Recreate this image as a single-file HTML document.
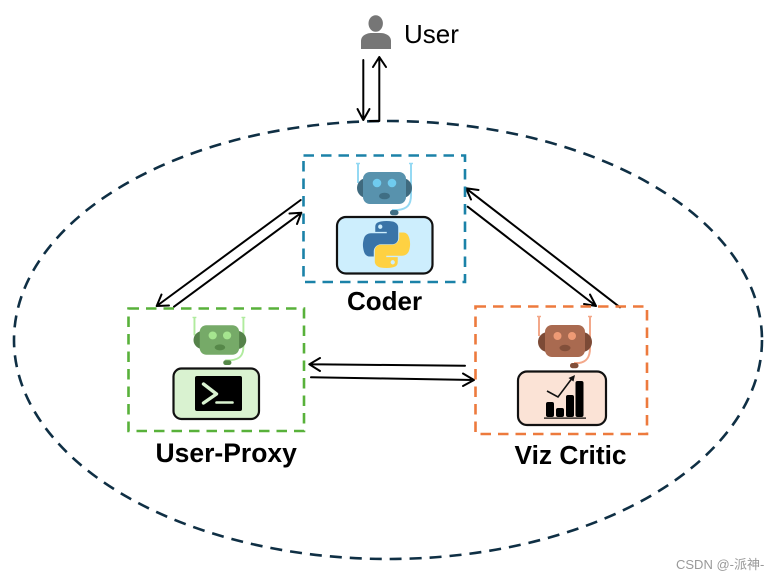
<!DOCTYPE html>
<html>
<head>
<meta charset="utf-8">
<style>
html,body{margin:0;padding:0;background:#fff;width:777px;height:580px;overflow:hidden}
svg{display:block;filter:blur(.35px)}
text{font-family:"Liberation Sans","Noto Sans CJK SC",sans-serif}
</style>
</head>
<body>
<svg width="777" height="580" viewBox="0 0 777 580" xmlns="http://www.w3.org/2000/svg">
<defs>
<path id="py" d="M54.9 0C50.3 0 46 .4 42.1 1.1 30.7 3.1 28.7 7.3 28.7 15.1V25.4H55.6V28.8H18.5C10.7 28.8 3.9 33.5 1.7 42.4c-2.5 10.2-2.6 16.6 0 27.2C3.6 77.5 8.1 83.2 16 83.2h9.2V71c0-8.9 7.7-16.7 16.9-16.7H69c7.5 0 13.4-6.2 13.4-13.7V15.1C82.4 7.8 76.3 2.4 69 1.1 64.4.3 59.6 0 54.9 0ZM40.4 8.3c2.8 0 5 2.3 5 5.1 0 2.8-2.2 5.1-5 5.1-2.8 0-5-2.3-5-5.1 0-2.8 2.2-5.1 5-5.1Z" fill-rule="evenodd"/>
</defs>

<ellipse cx="388" cy="340" rx="374" ry="219" fill="none" stroke="#0f2f44" stroke-width="2.600" stroke-dasharray="12 8"/>

<!-- User -->
<ellipse cx="375.700" cy="23.500" rx="7.200" ry="8.300" fill="#767676"/>
<path d="M361 49V41C361 36 366 33 372 33H380C386 33 391 36 391 41V49Z" fill="#767676"/>
<text x="404" y="43" font-size="26" fill="#000">User</text>

<!-- Arrows -->
<g fill="none" stroke="#000" stroke-width="2" stroke-linecap="round" stroke-linejoin="round">
<path d="M363.300 60V120M357.500 109L363.300 120L369.500 109"/>
<path d="M370 121H379.300V57M373 67L379.300 57L386 67"/>
<path d="M300.700 200L156.700 306M161.500 294.500L156.700 306L169 305.500"/>
<path d="M174 306.700L301.300 212.700M289.500 213.500L301.300 212.700L297 224"/>
<path d="M620 307.300L466 188.300M478.500 190L466 188.300L471 199.500"/>
<path d="M467.700 206.700L596 306M590 294.500L596 306L584 304"/>
<path d="M465 365.700L309.300 364.300M320 358L309.300 364.300L320 371"/>
<path d="M311 377.300L474 380M463 373.500L474 380L463 386"/>
</g>

<!-- Dashed boxes -->
<rect x="303.500" y="155.500" width="161.500" height="126.500" fill="none" stroke="#1b82a8" stroke-width="2.600" stroke-dasharray="10.500 7"/>
<rect x="128.500" y="308.500" width="175.500" height="122.500" fill="none" stroke="#58b13a" stroke-width="2.600" stroke-dasharray="10.500 7"/>
<rect x="475.500" y="306.500" width="171.500" height="127.500" fill="none" stroke="#ed7a3d" stroke-width="2.600" stroke-dasharray="10.500 7"/>

<!-- Coder robot -->
<g transform="translate(357 163)">
<path d="M1 0V20" stroke="#95d9f3" stroke-width="2" fill="none"/>
<path d="M-1 .5H3" stroke="#95d9f3" stroke-width="1.500"/>
<path d="M54 0V32C54 42 50 46 41 47H35" stroke="#95d9f3" stroke-width="2" fill="none"/>
<path d="M52 .5H56" stroke="#95d9f3" stroke-width="1.500"/>
<rect x="0" y="15" width="55" height="20" rx="10" fill="#3f6a7e"/>
<rect x="6" y="9" width="43" height="32" rx="7" fill="#5892ad"/>
<circle cx="20" cy="20" r="4.300" fill="#6fcbef"/>
<circle cx="35" cy="20" r="4.300" fill="#6fcbef"/>
<ellipse cx="27.500" cy="33" rx="5.500" ry="3.300" fill="#3f6e84"/>
<rect x="33" y="47" width="8.500" height="5.200" rx="2.500" fill="#3f6e84"/>
</g>
<rect x="337" y="217" width="95.500" height="56.500" rx="9" fill="#cdeefd" stroke="#111" stroke-width="2.200"/>
<g transform="translate(363 221) scale(.4273)">
<use href="#py" fill="#3a74a8"/>
<use href="#py" fill="#fed142" transform="rotate(180 55 55)"/>
</g>

<!-- User-Proxy robot -->
<g transform="translate(193.500 317) scale(.96 .92)">
<path d="M1 0V20" stroke="#b0eb9e" stroke-width="2" fill="none"/>
<path d="M-1 .5H3" stroke="#b0eb9e" stroke-width="1.500"/>
<path d="M52 0V32C52 42 48 46 39 47H33" stroke="#b0eb9e" stroke-width="2" fill="none"/>
<path d="M50 .5H54" stroke="#b0eb9e" stroke-width="1.500"/>
<rect x="0" y="15" width="55" height="20" rx="10" fill="#55824a"/>
<rect x="6.500" y="9" width="41" height="32" rx="7" fill="#76aa68"/>
<circle cx="20" cy="20" r="4.300" fill="#a5e58f"/>
<circle cx="35" cy="20" r="4.300" fill="#a5e58f"/>
<ellipse cx="27.500" cy="33" rx="5.500" ry="3.300" fill="#568849"/>
<rect x="31" y="47" width="8.500" height="5.200" rx="2.500" fill="#568849"/>
</g>
<rect x="173.500" y="368.500" width="85.500" height="50.500" rx="8" fill="#d9f2d0" stroke="#111" stroke-width="2.200"/>
<rect x="195" y="376" width="47" height="35" rx="2" fill="#000"/>
<path d="M203.500 384L216.500 394L203.500 403" fill="none" stroke="#d9f2d0" stroke-width="3.400" stroke-linecap="round" stroke-linejoin="round"/>
<path d="M216.500 402.500H232.500" stroke="#d9f2d0" stroke-width="2.600" stroke-linecap="round"/>

<!-- Viz Critic robot -->
<g transform="translate(538 316)">
<path d="M1 0V20" stroke="#f3a88a" stroke-width="2" fill="none"/>
<path d="M-1 .5H3" stroke="#f3a88a" stroke-width="1.500"/>
<path d="M52 0V32C52 42 48 46 41 47H36" stroke="#f3a88a" stroke-width="2" fill="none"/>
<path d="M50 .5H54" stroke="#f3a88a" stroke-width="1.500"/>
<rect x="0" y="16" width="54" height="20" rx="10" fill="#7c4a36"/>
<rect x="7" y="9" width="40" height="32" rx="7" fill="#a96a50"/>
<circle cx="19.500" cy="20" r="4" fill="#ee9a75"/>
<circle cx="34" cy="20" r="4" fill="#ee9a75"/>
<ellipse cx="27" cy="32" rx="5.500" ry="3.200" fill="#824f3a"/>
<rect x="32" y="47" width="8.500" height="5.200" rx="2.500" fill="#824f3a"/>
</g>
<rect x="518" y="371.500" width="88" height="53.500" rx="9" fill="#fbe3d6" stroke="#111" stroke-width="2.200"/>
<g fill="#000">
<rect x="546" y="402" width="8" height="15" rx="2"/>
<rect x="556" y="408" width="8" height="9" rx="2"/>
<rect x="566" y="395" width="8" height="22" rx="2"/>
<rect x="575.500" y="381" width="8" height="36" rx="2"/>
<rect x="544" y="417.500" width="42" height="1.200"/>
</g>
<path d="M547 391L558 397L573 377" fill="none" stroke="#111" stroke-width="1.600"/>
<path d="M575 375L568.500 378L573.500 381.500Z" fill="#111"/>

<!-- Labels -->
<g font-weight="700" fill="#000">
<text x="347" y="310" font-size="26">Coder</text>
<text x="155.500" y="462" font-size="26.500">User-Proxy</text>
<text x="514.500" y="464" font-size="26.300">Viz Critic</text>
</g>
<text x="676" y="569" font-size="13" fill="#999">CSDN @-派神-</text>
</svg>
</body>
</html>
